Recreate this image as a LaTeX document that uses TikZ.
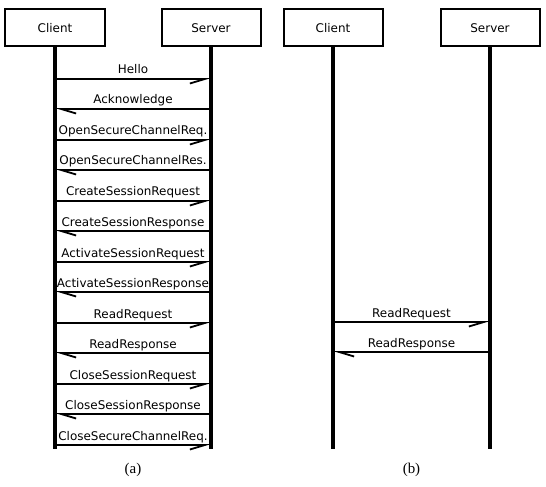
\documentclass[tikz,border=0pt]{standalone}
\usepackage{fontspec}
\setmainfont{DejaVu Sans}
\newfontfamily\capfont{Liberation Serif}
\usetikzlibrary{arrows.meta}
\begin{document}
\begin{tikzpicture}[x=1bp,y=-1bp,
  actor/.style={draw, line width=2bp, minimum width=99bp, minimum height=37bp, inner sep=0pt, font=\fontsize{12}{14}\selectfont},
  life/.style={line width=3.2bp},
  msgr/.style={line width=1.8bp, -{Straight Barb[harpoon,swap,length=15bp,width=9bp]}},
  msgl/.style={line width=1.8bp, -{Straight Barb[harpoon,length=15bp,width=9bp]}},
  lbl/.style={font=\fontsize{12}{14}\selectfont, inner sep=0pt, anchor=base},
  captxt/.style={font=\capfont\fontsize{15}{17}\selectfont, inner sep=0pt}
]
\useasboundingbox (0,0) rectangle (546,487);
% panel (a)
\node[actor] (ca) at (55,28) {Client};
\node[actor] (sa) at (211,28) {Server};
\coordinate (caend) at (55,449);
\coordinate (saend) at (211,449);
\draw[life] (ca.south) -- (caend);
\draw[life] (sa.south) -- (saend);
\foreach \i/\txt/\dir in {1/Hello/r,2/Acknowledge/l,3/OpenSecureChannelReq./r,4/OpenSecureChannelRes./l,5/CreateSessionRequest/r,6/CreateSessionResponse/l,7/ActivateSessionRequest/r,8/ActivateSessionResponse/l,9/ReadRequest/r,10/ReadResponse/l,11/CloseSessionRequest/r,12/CloseSessionResponse/l,13/CloseSecureChannelReq./r}{
  \pgfmathsetmacro\yy{round(79+(\i-1)*30.46)}
  \coordinate (ac\i) at (55,\yy);
  \coordinate (as\i) at (211,\yy);
  \node[lbl] (al\i) at (133,\yy-5) {\txt};
  \if r\dir
    \draw[msgr] (ac\i) -- (as\i);
  \else
    \draw[msgl] (as\i) -- (ac\i);
  \fi
}
\node[captxt] (capa) at (133,470) {(a)};
% panel (b)
\node[actor] (cb) at (333,28) {Client};
\node[actor] (sb) at (490,28) {Server};
\coordinate (cbend) at (333,449);
\coordinate (sbend) at (490,449);
\draw[life] (cb.south) -- (cbend);
\draw[life] (sb.south) -- (sbend);
\coordinate (bc1) at (333,322);
\coordinate (bs1) at (490,322);
\coordinate (bc2) at (333,352);
\coordinate (bs2) at (490,352);
\node[lbl] (bl1) at (411.5,317) {ReadRequest};
\node[lbl] (bl2) at (411.5,347) {ReadResponse};
\draw[msgr] (bc1) -- (bs1);
\draw[msgl] (bs2) -- (bc2);
\node[captxt] (capb) at (411.5,470) {(b)};
\end{tikzpicture}
\end{document}
